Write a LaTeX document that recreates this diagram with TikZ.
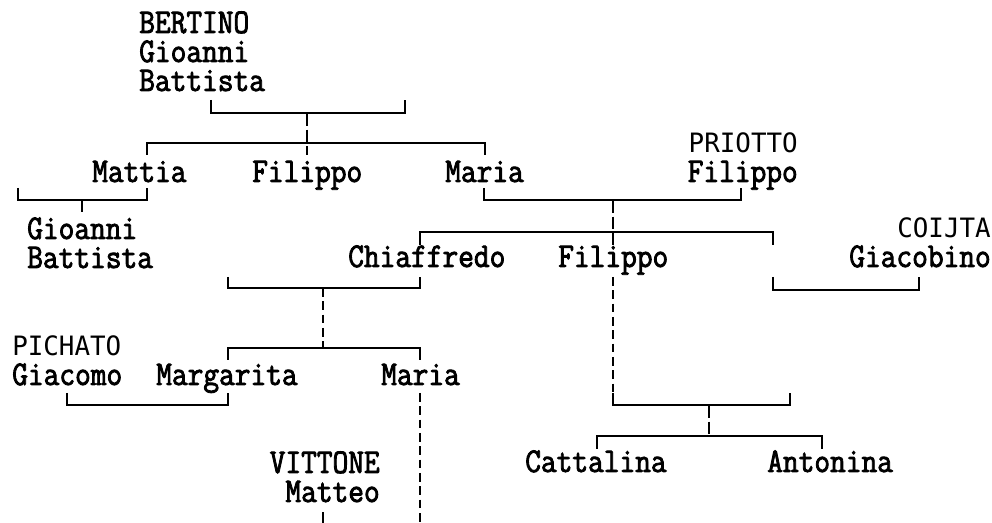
\documentclass[tikz,border=0pt]{standalone}
\usepackage{fontspec}
\newfontfamily\namefont[FakeStretch=0.88,FakeBold=2.4]{Latin Modern Mono}
\newfontfamily\clanfont[FakeStretch=0.97]{DejaVu Sans Mono}

\begin{document}
\begin{tikzpicture}[x=0.75pt,y=-0.75pt,
  person/.style={font=\namefont\fontsize{26}{21.75}\selectfont, inner sep=0pt, align=left, anchor=base west},
  personR/.style={person, align=right, anchor=base east},
  kin/.style={line width=1.5pt, black},
  kingap/.style={kin, dash pattern=on 9.6pt off 2.8pt},
  kindash/.style={kin, dash pattern=on 6.5pt off 3.5pt},
]
\def\clan{\clanfont\fontsize{20}{21.75}\selectfont}
\useasboundingbox (0,0) rectangle (992,523);

% people (x = left or right edge, y = baseline of last line, in px)
\node[person] (bertino)  at (139,91) {BERTINO\\Gioanni\\Battista};
\node[person] (mattia)   at (92,182)  {Mattia};
\node[person] (filippoA) at (252,182) {Filippo};
\node[person] (mariaA)   at (445,182) {Maria};
\node[personR] (priotto) at (798,182) {{\clan PRIOTTO}\\Filippo};
\node[person] (gioanni)  at (27,268) {Gioanni\\Battista};
\node[person] (chiaffredo) at (348,267) {Chiaffredo};
\node[person] (filippoB)   at (558,267) {Filippo};
\node[personR] (coijta)  at (991,267) {{\clan COIJTA\hspace{13.5pt}}\\Giacobino};
\node[person] (pichato)   at (12,385)  {{\clan PICHATO}\\Giacomo};
\node[person] (margarita) at (156,385) {Margarita};
\node[person] (mariaB)    at (381,385) {Maria};
\node[personR] (vittone)  at (380,502) {VITTONE\\Matteo};
\node[person] (cattalina) at (525,472) {Cattalina};
\node[person] (antonina)  at (767,472) {Antonina};

% couple bars: name / left x / right x / middle x / tick top / bar y
\foreach \n/\xa/\xb/\xc/\yt/\yb in {%
  wedA/211/405/307/100/113,
  wedB/18/147/82/188/200,
  wedC/484/741/613/188/200,
  wedD/228/420/323/277/288,
  wedE/773/919/846/277/290,
  wedF/67/228/147/393/405,
  wedG/613/790/709/393/405%
} {
  \coordinate (\n-l) at (\xa,\yt);
  \coordinate (\n-r) at (\xb,\yt);
  \coordinate (\n-c) at (\xc,\yb);
  \draw[kin] (\n-l) |- (\n-c) -| (\n-r);
}
% children bars: name / left x / right x / middle x / bar y / tick end
\foreach \n/\xa/\xb/\xc/\yb/\ye in {%
  kidsA/147/485/307/143/155,
  kidsC/420/773/613/232/245,
  kidsD/228/420/323/348/360,
  kidsG/597/822/709/436/449%
} {
  \coordinate (\n-l) at (\xa,\ye);
  \coordinate (\n-r) at (\xb,\ye);
  \coordinate (\n-c) at (\xc,\yb);
  \coordinate (\n-e) at (\xc,\ye);
  \draw[kin] (\n-l) |- (\n-c) -| (\n-r);
}
% descent lines
\coordinate (mattiaKid) at (82,212);
\coordinate (filippoBdown) at (613,277);
\coordinate (mariaBdown) at (420,393);
\coordinate (mariaBend) at (420,523);
\coordinate (matteoDown) at (323,512);
\coordinate (matteoEnd) at (323,523);
\draw[kingap] (wedA-c) -- (kidsA-e);
\draw[kin] (wedB-c) -- (mattiaKid);
\draw[kingap] (wedC-c) -- (kidsC-e);
\draw[kindash] (wedD-c) -- (kidsD-c);
\draw[kindash] (filippoBdown) -- (wedG-l);
\draw[kingap] (wedG-c) -- (kidsG-c);
\draw[kindash] (mariaBdown) -- (mariaBend);
\draw[kin] (matteoDown) -- (matteoEnd);
\end{tikzpicture}
\end{document}
